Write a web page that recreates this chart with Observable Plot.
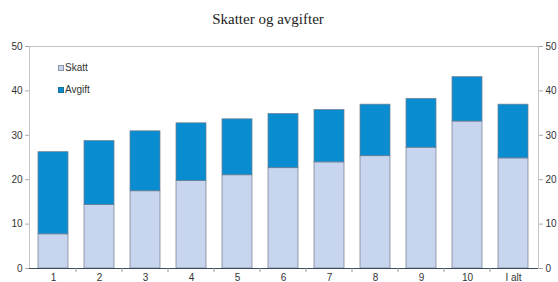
<!DOCTYPE html>
<html>
<head>
<meta charset="utf-8">
<script src="https://cdn.jsdelivr.net/npm/d3@7"></script>
<script src="https://cdn.jsdelivr.net/npm/@observablehq/plot@0.6"></script>
<style>
  body { margin: 0; background: #fff; }
  #wrap { position: relative; width: 558px; height: 282px; overflow: hidden; }
  #title { position: absolute; left: 0; top: 11px; width: 536px; text-align: center;
           font: 15px "Liberation Serif", "Times New Roman", serif; color: #222; line-height: 16px; }
  #legend { position: absolute; left: 58px; top: 62px; font: 10px "Liberation Sans", Arial, sans-serif; color: #333; }
  #legend div { line-height: 12px; display: flex; align-items: center; height: 12px; margin-bottom: 10px; }
  #legend span.sw { display: inline-block; width: 6px; height: 6px; margin-right: 1px; box-sizing: border-box; }
  #chart { position: absolute; left: 0; top: 0; }
</style>
</head>
<body>
<div id="wrap">
  <div id="chart"></div>
  <div id="title">Skatter og avgifter</div>
  <div id="legend"></div>
</div>
<script>
const categories = ["1", "2", "3", "4", "5", "6", "7", "8", "9", "10", "I alt"];
const skatt  = [7.7, 14.3, 17.4, 19.7, 21.0, 22.6, 23.9, 25.3, 27.2, 33.1, 24.8];
const avgift = [18.5, 14.4, 13.5, 13.0, 12.6, 12.2, 11.8, 11.6, 11.0, 10.0, 12.1];
const seriesNames = ["Skatt", "Avgift"];
const seriesColors = ["#c8d5ef", "#0a8dd0"];
const yTicks = [0, 10, 20, 30, 40, 50];

const data = [];
categories.forEach((c, i) => {
  data.push({cat: c, series: "Skatt", value: skatt[i]});
  data.push({cat: c, series: "Avgift", value: avgift[i]});
});

const font = '10px "Liberation Sans", Arial, sans-serif';

const chart = Plot.plot({
  width: 558,
  height: 282,
  marginTop: 46,
  marginBottom: 14,
  marginLeft: 29,
  marginRight: 20,
  style: {font, color: "#333", background: "transparent"},
  x: {domain: categories, paddingInner: 0.34, paddingOuter: 0.17, label: null},
  y: {domain: [0, 50], label: null},
  color: {domain: seriesNames, range: seriesColors},
  marks: [
    Plot.frame({stroke: "#c4c4c4", strokeWidth: 1}),
    Plot.barY(data, Plot.stackY({
      x: "cat", y: "value", fill: "series", z: "series", order: seriesNames,
      stroke: "#6f7d8f", strokeWidth: 0.8, strokeOpacity: 0.9
    })),
    Plot.ruleY([0], {stroke: "#3e4a5c", strokeWidth: 1.2}),
    Plot.axisY(yTicks, {anchor: "left", tickSize: 4, tickPadding: 3, stroke: "#aaa", fill: "#333", label: null}),
    Plot.axisY(yTicks, {anchor: "right", tickSize: 4, tickPadding: 3, stroke: "#aaa", fill: "#333", label: null}),
    Plot.axisX({tickSize: 0, tickPadding: 5, fill: "#333", label: null})
  ]
});
document.getElementById("chart").appendChild(chart);

// boundary tick marks between categories, positioned from Plot's x scale
const xs = chart.scale("x");
const ys = chart.scale("y");
const step = xs.step;
const y0 = ys.apply(0);
const svg = d3.select(chart);
const bounds = categories.map(c => xs.apply(c) - (step - xs.bandwidth) / 2);
bounds.push(bounds[bounds.length - 1] + step);
svg.append("g").selectAll("line").data(bounds.slice(1, -1)).join("line")
  .attr("x1", d => d).attr("x2", d => d)
  .attr("y1", y0).attr("y2", y0 + 4)
  .attr("stroke", "#999");

// legend
const lg = document.getElementById("legend");
seriesNames.forEach((s, i) => {
  const row = document.createElement("div");
  const sw = document.createElement("span");
  sw.className = "sw";
  sw.style.background = seriesColors[i];
  sw.style.border = "1px solid " + (i === 0 ? "#8a94a6" : "#1a6f99");
  row.appendChild(sw);
  row.appendChild(document.createTextNode(s));
  lg.appendChild(row);
});
</script>
</body>
</html>
